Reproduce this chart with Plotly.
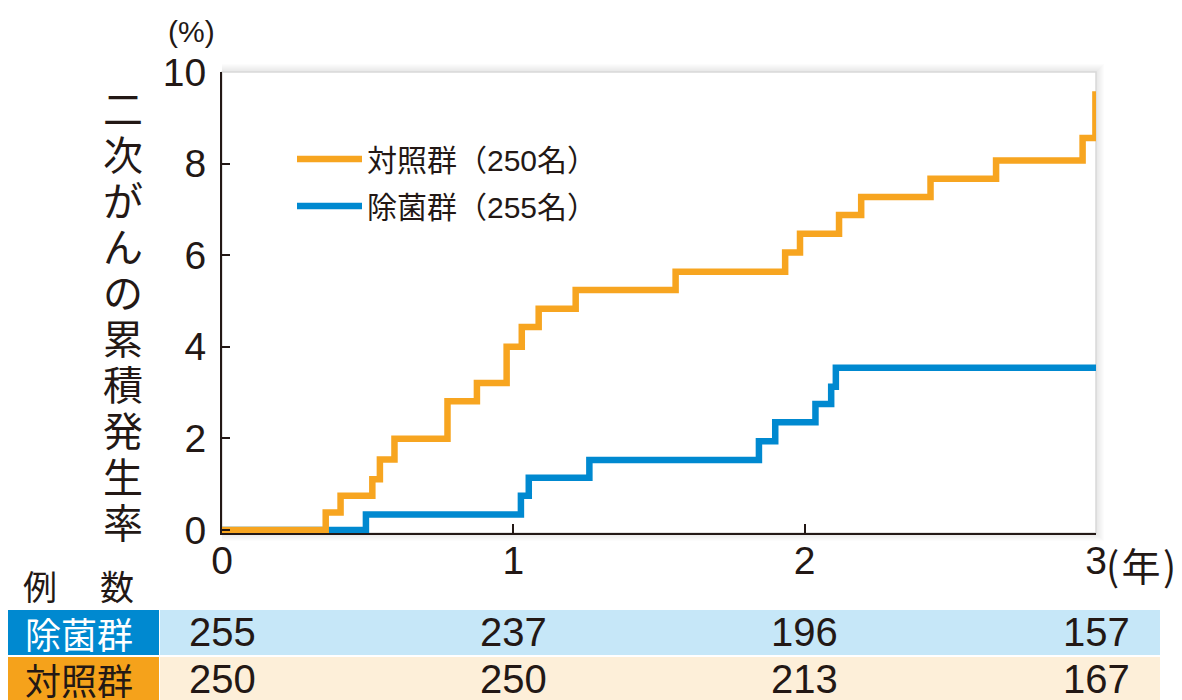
import plotly.graph_objects as go

# ---------------- data ----------------
years = [0, 1, 2, 3]
year_labels = ["0", "1", "2", "3"]
y_ticks = [0, 2, 4, 6, 8, 10]

# control group (対照群, n=250) : cumulative incidence (%)
control_t = [0, 0.356, 0.407, 0.516, 0.542, 0.592, 0.774, 0.875, 0.977, 1.029,
             1.087, 1.214, 1.557, 1.933, 1.984, 2.118, 2.194, 2.432, 2.657,
             2.954, 2.998]
control_pct = [0, 0.38, 0.75, 1.11, 1.54, 1.99, 2.81, 3.21, 4.00, 4.43,
               4.83, 5.24, 5.64, 6.06, 6.47, 6.88, 7.27, 7.67, 8.07,
               8.56, 9.58]

# eradication group (除菌群, n=255)
erad_t = [0, 0.494, 1.026, 1.053, 1.261, 1.843, 1.899, 2.037, 2.091, 2.107, 3.0]
erad_pct = [0, 0.34, 0.75, 1.14, 1.53, 1.94, 2.35, 2.75, 3.13, 3.54, 3.54]

# numbers at risk
erad_n = [255, 237, 196, 157]
control_n = [250, 250, 213, 167]

control_name = "対照群（250名）"
erad_name = "除菌群（255名）"
ytitle_chars = list("二次がんの累積発生率")

# ---------------- style ----------------
ORANGE = "#F7A520"
BLUE = "#0089D0"
INK = "#231815"
LAT = "Liberation Sans, Arial, Noto Sans CJK JP, sans-serif"
CJK = "Noto Sans CJK JP, sans-serif"

# page places the figure at (8, 8); coordinates below are window pixels
OFF = 8
WIN_W, WIN_H = 1182, 700
W, H = WIN_W - OFF, WIN_H - OFF
L, R, T, B = 222, 1096, 72, 533


def px(x):
    return (x - L) / (R - L)


def py(y):
    return (B - y) / (B - T)


fig = go.Figure()

fig.add_trace(go.Scatter(
    x=erad_t, y=erad_pct, mode="lines", name=erad_name,
    line=dict(color=BLUE, width=6.5, shape="hv"),
    legendrank=2, legendgroup="b", hoverinfo="skip"))
fig.add_trace(go.Scatter(
    x=control_t, y=control_pct, mode="lines", name=control_name,
    line=dict(color=ORANGE, width=6.5, shape="hv"),
    legendrank=1, legendgroup="a", hoverinfo="skip"))

shapes = []
# soft shadow around the plotting frame
for d in range(1, 9):
    shapes.append(dict(type="rect", xref="paper", yref="paper", layer="below",
                       x0=px(L), x1=px(R + d), y0=py(B + d), y1=py(T - d),
                       fillcolor="rgba(0,0,0,0.012)", line=dict(width=0)))
shapes.append(dict(type="rect", xref="paper", yref="paper", layer="below",
                   x0=0, x1=1, y0=0, y1=1, fillcolor="white",
                   line=dict(color="#D9D9D9", width=1.5)))

# number-at-risk table backgrounds
rows = [(610, 655, BLUE, "#C6E7F8"), (657, 700, "#F5A21B", "#FDEFD9")]
for y0, y1, dark, light in rows:
    shapes.append(dict(type="rect", xref="paper", yref="paper", layer="below",
                       x0=px(7), x1=px(159), y0=py(y1), y1=py(y0),
                       fillcolor=dark, line=dict(width=0)))
    shapes.append(dict(type="rect", xref="paper", yref="paper", layer="below",
                       x0=px(160), x1=px(1160), y0=py(y1), y1=py(y0),
                       fillcolor=light, line=dict(width=0)))

ann = []


def note(text, x, y, size, family=CJK, color=INK, **kw):
    d = dict(text=text, xref="paper", yref="paper", x=px(x), y=py(y),
             showarrow=False, xanchor="center", yanchor="middle",
             font=dict(family=family, size=size, color=color))
    d.update(kw)
    ann.append(d)


# vertical y-axis title
for i, ch in enumerate(ytitle_chars):
    note(ch, 123, 107 + 46 * i, 40)
# unit labels
note("(%)", 191, 31, 30, family=LAT)
ann.append(dict(text="(\u200a年\u200a)", xref="x", yref="paper", x=years[-1], y=0,
                xshift=8, yshift=-31, showarrow=False, xanchor="left",
                yanchor="middle", font=dict(family=CJK, size=39, color=INK)))
# table header
note("例", 40, 585, 34)
note("数", 117, 585, 34)
# row labels
note("除菌群", 79, 633, 36, color="white")
note("対照群", 79, 679, 36)
# numbers at risk
for yr, n in zip(years, erad_n):
    ann.append(dict(text=str(n), xref="x", yref="paper", x=yr, y=py(632),
                    showarrow=False, xanchor="center", yanchor="middle",
                    font=dict(family=LAT, size=40, color=INK)))
for yr, n in zip(years, control_n):
    ann.append(dict(text=str(n), xref="x", yref="paper", x=yr, y=py(679),
                    showarrow=False, xanchor="center", yanchor="middle",
                    font=dict(family=LAT, size=40, color=INK)))

fig.update_layout(
    width=W, height=H,
    margin=dict(l=L - OFF, r=WIN_W - R, t=T - OFF, b=WIN_H - B, pad=0),
    paper_bgcolor="white", plot_bgcolor="white",
    showlegend=True,
    legend=dict(x=px(292), y=py(133), xanchor="left", yanchor="top",
                bgcolor="rgba(0,0,0,0)", tracegroupgap=5, itemwidth=65,
                font=dict(family=LAT, size=30, color=INK)),
    shapes=shapes, annotations=ann,
    xaxis=dict(range=[0, 3], tickvals=years, ticktext=year_labels,
               showgrid=False, zeroline=False, showline=True,
               linecolor=INK, linewidth=2, ticks="inside", ticklen=9,
               tickwidth=2, tickcolor=INK, ticklabelstandoff=-8,
               tickfont=dict(family=LAT, size=39, color=INK)),
    yaxis=dict(range=[-0.066, 10], tickvals=y_ticks,
               showgrid=False, zeroline=False, showline=True,
               linecolor=INK, linewidth=2, ticks="inside", ticklen=8,
               tickwidth=2, tickcolor=INK, ticklabelstandoff=6,
               tickfont=dict(family=LAT, size=39, color=INK)),
)

fig.write_html("out.html")
